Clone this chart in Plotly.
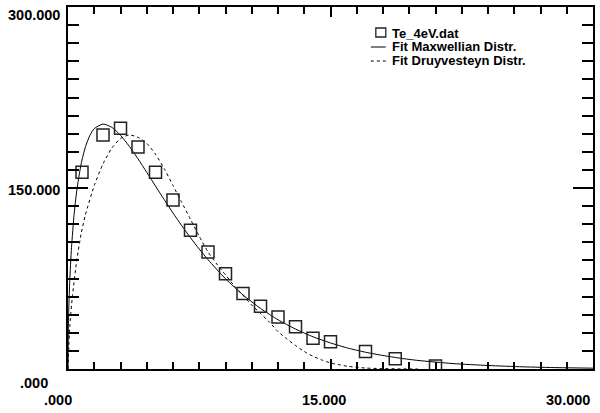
import plotly.graph_objects as go

# ---- data ----
data_E = [0.8, 2, 3, 4, 5, 6, 7, 8, 9, 10, 11, 12, 13, 14, 15, 17, 18.7, 21]
data_f = [163, 194, 199.5, 184, 163, 140, 115, 97, 79, 62.5, 52, 43, 35, 25.5, 22.5, 14.5, 8.5, 2.5]

maxw_E = [0, 0.02, 0.05, 0.1, 0.2, 0.35, 0.5, 0.75, 1, 1.25, 1.5, 2, 2.5, 3, 3.5, 4, 4.5, 5,
          5.5, 6, 6.5, 7, 7.5, 8, 9, 10, 11, 12, 13, 14, 15, 16, 17, 18, 19, 20, 22, 24, 26, 28, 30]
maxw_f = [0, 33.3, 52.3, 73.0, 100.7, 128.3, 147.7, 169.9, 184.3, 193.6, 199.2, 203.0, 200.3,
          193.7, 184.6, 174.2, 163.0, 151.6, 140.3, 129.3, 118.8, 108.8, 99.4, 90.6, 74.8, 61.4,
          50.2, 40.8, 33.1, 26.7, 21.6, 17.3, 13.9, 11.2, 8.9, 7.1, 4.5, 2.9, 1.8, 1.1, 0.7]

druy_E = [0, 0.1, 0.25, 0.5, 0.75, 1.0, 1.5, 2.0, 2.5, 3.0, 3.5, 4.0, 4.5, 5.0, 5.5, 6.0, 6.5,
          7.0, 7.5, 8.0, 8.5, 9.0, 9.5, 10, 10.5, 11, 11.5, 12, 12.5, 13, 13.5, 14, 14.5, 15,
          15.5, 16, 17, 18, 19, 20]
druy_f = [0, 35, 60, 90, 112, 128, 152, 170, 183, 191, 194, 192, 187, 178, 166, 152, 138,
          124, 110, 97, 87, 78, 69, 61, 53, 46, 39, 31, 25, 19.5, 14.5, 10.5, 7.5, 5,
          3.5, 2.2, 0.8, 0.3, 0.1, 0]

series_names = ["Te_4eV.dat", "Fit Maxwellian Distr.", "Fit Druyvesteyn Distr."]

x_tick_vals = [0, 15, 30]
x_tick_text = [".000", "15.000", "30.000"]
y_tick_vals = [0, 150, 300]
y_tick_text = [".000", "150.000", "300.000"]

# ---- styling ----
FONT = "Liberation Sans, Arial, sans-serif"
fig = go.Figure()

fig.add_trace(go.Scatter(x=maxw_E, y=maxw_f, mode="lines", name=series_names[1],
                         line=dict(color="black", width=1, shape="spline", smoothing=0.6),
                         showlegend=False))
fig.add_trace(go.Scatter(x=druy_E, y=druy_f, mode="lines", name=series_names[2],
                         line=dict(color="black", width=1, dash="3px,3px", shape="spline", smoothing=0.6),
                         showlegend=False))
fig.add_trace(go.Scatter(x=data_E, y=data_f, mode="markers", name=series_names[0],
                         marker=dict(symbol="square-open", size=12, color="#222",
                                     line=dict(width=1.5, color="#222")),
                         showlegend=False))

axis_common = dict(showgrid=False, zeroline=False, showline=True, linecolor="black",
                   linewidth=2, mirror="allticks", ticks="inside", tickcolor="black",
                   tickwidth=1.5, showticklabels=False)

fig.update_xaxes(range=[0, 30], tickmode="array", tickvals=x_tick_vals, ticklen=10,
                 minor=dict(dtick=1.5, ticks="inside", ticklen=7, tickcolor="black",
                            tickwidth=1.5, showgrid=False),
                 **axis_common)
fig.update_yaxes(range=[0, 300], tickmode="array", tickvals=y_tick_vals, ticklen=20,
                 minor=dict(dtick=15, ticks="inside", ticklen=11, tickcolor="black",
                            tickwidth=1.5, showgrid=False),
                 **axis_common)

tick_font = dict(family=FONT, size=14.5, color="black", weight="bold")
annotations = []
# x tick labels
x_shifts = [-10, -7, -25]
for v, t, s in zip(x_tick_vals, x_tick_text, x_shifts):
    annotations.append(dict(x=v, y=0, xref="x", yref="paper", text=t, showarrow=False,
                            xanchor="center", yanchor="middle", xshift=s, yshift=-31,
                            font=tick_font))
# y tick labels
y_xshift = [-18, -6, -6]
y_yshift = [-14, -2, -8]
for v, t, xs, ys in zip(y_tick_vals, y_tick_text, y_xshift, y_yshift):
    annotations.append(dict(x=0, y=v, xref="paper", yref="y", text=t, showarrow=False,
                            xanchor="right", yanchor="middle", xshift=xs, yshift=ys,
                            font=tick_font))

# manual legend (compact rows like the reference)
legend_rows_y = [33, 47, 61]   # pixel rows from top
H = 413
W = 600
L, R, T, B = 68, 5, 7, 44
pw, ph = W - L - R, H - T - B

def px_to_paper(px, py):
    return (px - L) / pw, 1 - (py - T) / ph

shapes = []
text_x = 392
for i, (name, ry) in enumerate(zip(series_names, legend_rows_y)):
    tx, ty = px_to_paper(text_x, ry)
    annotations.append(dict(x=tx, y=ty, xref="paper", yref="paper", text=name, showarrow=False,
                            xanchor="left", yanchor="middle", borderpad=0,
                            font=dict(family=FONT, size=13, color="black", weight="bold")))
    x0, yy = px_to_paper(372, ry)
    x1, _ = px_to_paper(387, ry)
    if i == 0:
        a0, b0 = px_to_paper(377, ry - 5)
        a1, b1 = px_to_paper(387, ry + 4)
        shapes.append(dict(type="rect", xref="paper", yref="paper", x0=a0, y0=b1, x1=a1, y1=b0,
                           line=dict(color="#222", width=1.3)))
    elif i == 1:
        shapes.append(dict(type="line", xref="paper", yref="paper", x0=x0, y0=yy, x1=x1, y1=yy,
                           line=dict(color="black", width=1)))
    else:
        shapes.append(dict(type="line", xref="paper", yref="paper", x0=x0, y0=yy, x1=x1, y1=yy,
                           line=dict(color="black", width=1, dash="3px,3px")))

fig.update_layout(width=W, height=H, margin=dict(l=L, r=R, t=T, b=B),
                  paper_bgcolor="white", plot_bgcolor="white",
                  annotations=annotations, shapes=shapes, showlegend=False)

fig.write_html("out.html", config={"displayModeBar": False},
               post_script="document.body.style.margin='0px';document.body.style.overflow='hidden';")
